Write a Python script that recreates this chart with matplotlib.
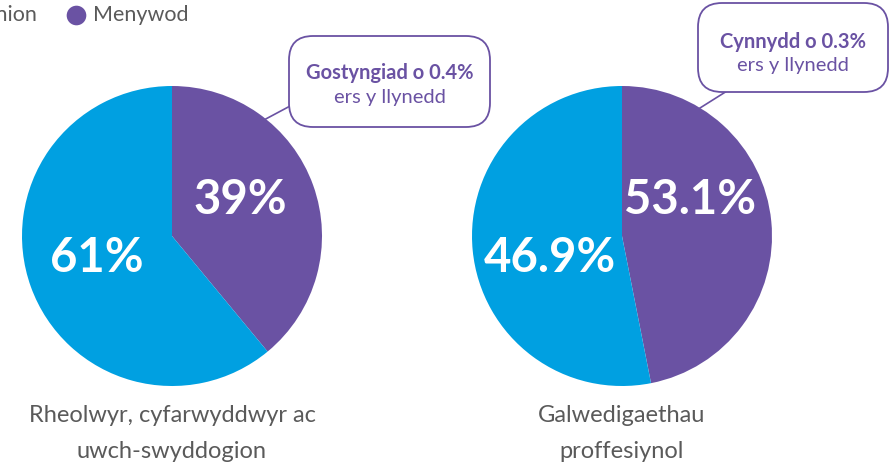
import matplotlib
matplotlib.use("Agg")
import matplotlib.pyplot as plt
from matplotlib.patches import FancyBboxPatch

plt.rcParams['font.family'] = ['Lato', 'DejaVu Sans']

categories = ["Rheolwyr, cyfarwyddwyr ac\nuwch-swyddogion", "Galwedigaethau\nproffesiynol"]
# wedge sizes as drawn in the picture (purple = Menywod, blue = Dynion)
menywod_slice = [39, 46.9]
dynion_slice = [61, 53.1]
# printed labels
women_labels = ["39%", "53.1%"]
men_labels = ["61%", "46.9%"]
callout_bold = ["Gostyngiad o 0.4%", "Cynnydd o 0.3%"]
callout_sub = ["ers y llynedd", "ers y llynedd"]
legend_names = ["Dynion", "Menywod"]

BLUE = "#00A0E1"
PURPLE = "#6A52A3"
GREY = "#5a5a5a"

W, H = 890, 468
fig = plt.figure(figsize=(W / 100, H / 100), dpi=100)
ax = fig.add_axes([0, 0, 1, 1])


def Y(yp):
    return H - yp


centers = [(172, Y(236)), (622, Y(236))]
radius = 150
for c, m, d in zip(centers, menywod_slice, dynion_slice):
    ax.pie([m, d], colors=[PURPLE, BLUE], startangle=90, counterclock=False,
           center=c, radius=radius, frame=True,
           wedgeprops=dict(linewidth=0))
ax.set_xlim(0, W)
ax.set_ylim(0, H)
ax.set_aspect('auto')
ax.axis('off')

# percentage labels
wpos = [(240, 200), (690, 200)]
mpos = [(97, 258), (550, 258)]
for (x, y), t in zip(wpos, women_labels):
    ax.text(x, Y(y), t, color='white', fontsize=34, fontweight='bold', ha='center', va='center')
for (x, y), t in zip(mpos, men_labels):
    ax.text(x, Y(y), t, color='white', fontsize=34, fontweight='bold', ha='center', va='center')

# category labels
for c, cat in zip(centers, categories):
    l1, l2 = cat.split("\n")
    ax.text(c[0], Y(416), l1, color=GREY, fontsize=17, ha='center', va='center')
    ax.text(c[0], Y(451), l2, color=GREY, fontsize=17, ha='center', va='center')

# callouts
boxes = [(289, 36, 490, 127), (698, 3, 888, 92)]
lines = [((262, 121), (292, 105)), ((700, 108), (727, 91))]
txt_y = [(73, 98), (42, 65)]
for (x0, y0, x1, y1), ln, (ty1, ty2), b, s in zip(boxes, lines, txt_y, callout_bold, callout_sub):
    ax.plot([ln[0][0], ln[1][0]], [Y(ln[0][1]), Y(ln[1][1])], color=PURPLE, lw=1.2, zorder=4)
    box = FancyBboxPatch((x0, Y(y1)), x1 - x0, y1 - y0,
                         boxstyle="round,pad=0,rounding_size=24",
                         facecolor='white', edgecolor=PURPLE, lw=1.3, zorder=5)
    ax.add_patch(box)
    cx = (x0 + x1) / 2
    ax.text(cx, Y(ty1), b, color=PURPLE, fontsize=14.5, fontweight='bold', ha='center', va='center', zorder=6)
    ax.text(cx, Y(ty2), s, color=PURPLE, fontsize=14.5, ha='center', va='center', zorder=6)

# legend (partially cut off at the left)
ax.text(37, Y(15), legend_names[0], color=GREY, fontsize=15.5, ha='right', va='center')
ax.scatter([-80], [Y(15)], s=200, color=BLUE, clip_on=False, linewidths=0)
ax.scatter([76], [Y(15)], s=200, color=PURPLE, linewidths=0)
ax.text(93, Y(15), legend_names[1], color=GREY, fontsize=15.5, ha='left', va='center')

fig.savefig("out.png", dpi=100)
